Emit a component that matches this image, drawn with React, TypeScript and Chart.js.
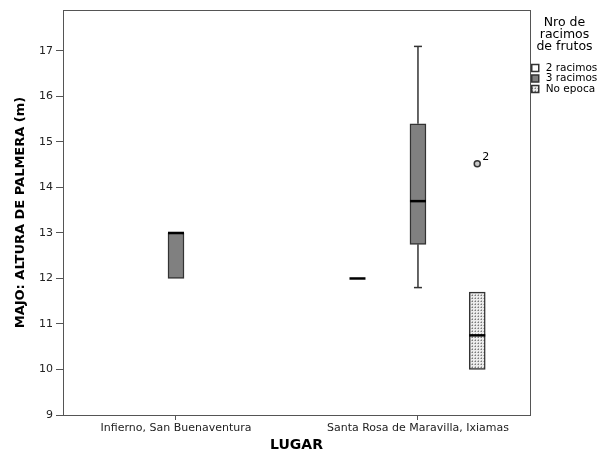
import React, { useEffect, useRef } from 'react';
import { Chart, registerables } from 'chart.js';

Chart.register(...registerables);

// ---- data ----
const categories = ['Infierno, San Buenaventura', 'Santa Rosa de Maravilla, Ixiamas'];
const seriesNames = ['2 racimos', '3 racimos', 'No epoca'];
// five-number summaries per category: [min, q1, median, q3, max]
const stats2Racimos: (number[] | null)[] = [null, [12, 12, 12, 12, 12]];
const stats3Racimos: (number[] | null)[] = [[12, 12, 13, 13, 13], [11.8, 12.75, 13.7, 15.4, 17.1]];
const statsNoEpoca: (number[] | null)[] = [null, [10, 10, 10.75, 11.7, 11.7]];
const outlierSeries = [2];
const outlierCategory = [1];
const outlierValues = [14.52];
const outlierLabels = ['2'];
const yTicks = [9, 10, 11, 12, 13, 14, 15, 16, 17];
const legendTitle = ['Nro de', 'racimos', 'de frutos'];
const xTitle = 'LUGAR';
const yTitle = 'MAJO: ALTURA DE PALMERA (m)';

// ---- layout / style ----
const FONT = "'DejaVu Sans', sans-serif";
const seriesOffset = [-0.25, 0, 0.245];
const allStats = [stats2Racimos, stats3Racimos, statsNoEpoca];
const pos = (ci: number, si: number) => ci + 1 + seriesOffset[si];

function makePattern(): CanvasPattern | string {
  const c = document.createElement('canvas');
  c.width = 3;
  c.height = 3;
  const g = c.getContext('2d');
  if (!g) return '#ddd';
  g.fillStyle = '#ececec';
  g.fillRect(0, 0, 3, 3);
  g.fillStyle = '#7a7a7a';
  g.fillRect(1, 1, 1, 1);
  g.fillStyle = '#b4b4b4';
  g.fillRect(0, 1, 1, 1);
  g.fillRect(1, 0, 1, 1);
  const p = g.createPattern(c, 'repeat');
  return p || '#ddd';
}

const boxDecor = {
  id: 'boxDecor',
  beforeDatasetsDraw(chart: any) {
    const { ctx, chartArea } = chart;
    ctx.save();
    ctx.strokeStyle = '#555';
    ctx.lineWidth = 1;
    ctx.strokeRect(chartArea.left + 0.5, chartArea.top + 0.5, chartArea.right - chartArea.left, chartArea.bottom - chartArea.top);
    ctx.restore();
  },
  afterDatasetsDraw(chart: any) {
    const { ctx } = chart;
    const xs = chart.scales.x;
    const ys = chart.scales.y;
    ctx.save();
    allStats.forEach((st, si) => {
      st.forEach((s, ci) => {
        if (!s) return;
        const px = xs.getPixelForValue(pos(ci, si));
        const [mn, q1, med, q3, mx] = s;
        ctx.strokeStyle = '#333';
        ctx.lineWidth = 1.5;
        const seg = (a: number, b: number) => {
          if (a === b) return;
          ctx.beginPath();
          ctx.moveTo(px, ys.getPixelForValue(a));
          ctx.lineTo(px, ys.getPixelForValue(b));
          ctx.stroke();
          const cy = ys.getPixelForValue(b);
          ctx.beginPath();
          ctx.moveTo(px - 4, cy);
          ctx.lineTo(px + 4, cy);
          ctx.stroke();
        };
        seg(q3, mx);
        seg(q1, mn);
        ctx.strokeStyle = '#000';
        ctx.lineWidth = 2.5;
        const my = ys.getPixelForValue(med);
        ctx.beginPath();
        ctx.moveTo(px - 8, my);
        ctx.lineTo(px + 8, my);
        ctx.stroke();
      });
    });
    const meta = chart.getDatasetMeta(3);
    ctx.fillStyle = '#000';
    ctx.font = `11px ${FONT}`;
    ctx.textBaseline = 'middle';
    ctx.textAlign = 'left';
    meta.data.forEach((pt: any, i: number) => {
      ctx.fillText(outlierLabels[i], pt.x + 5, pt.y - 7);
    });
    ctx.restore();
  },
};

export default function App() {
  const ref = useRef<HTMLCanvasElement | null>(null);
  useEffect(() => {
    if (!ref.current) return;
    const fills = ['#ffffff', '#808080', makePattern()];
    const barSets = allStats.map((st, si) => ({
      type: 'bar' as const,
      label: seriesNames[si],
      data: st
        .map((s, ci) => (s ? { x: pos(ci, si), y: [s[1], s[3]] } : null))
        .filter(Boolean),
      backgroundColor: fills[si],
      borderColor: '#333',
      borderWidth: 1.5,
      borderSkipped: false,
      barThickness: 16,
      grouped: false,
    }));
    const outlierSet = {
      type: 'scatter' as const,
      label: 'outliers',
      data: outlierValues.map((v, i) => ({ x: pos(outlierCategory[i], outlierSeries[i]), y: v })),
      backgroundColor: '#c8c8c8',
      borderColor: '#333',
      borderWidth: 1.5,
      pointRadius: 3,
    };
    const chart = new Chart(ref.current, {
      type: 'bar',
      data: { datasets: [...barSets, outlierSet] as any },
      options: {
        animation: false,
        responsive: false,
        events: [],
        layout: { padding: { top: 10, left: 0, right: 0, bottom: 0 } },
        plugins: {
          tooltip: { enabled: false },
          legend: {
            position: 'right',
            align: 'start',
            maxWidth: 69,
            title: {
              display: true,
              text: legendTitle as any,
              color: '#000',
              font: { family: FONT, size: 12.5, lineHeight: '12px' as any },
              padding: { top: 6, bottom: 34.75 } as any,
            },
            labels: {
              usePointStyle: true,
              pointStyle: 'rect',
              boxWidth: 12,
              boxHeight: 7,
              padding: 0,
              color: '#000',
              font: { family: FONT, size: 10.5 },
              filter: (item: any) => item.datasetIndex < 3,
            },
          },
        },
        scales: {
          x: {
            type: 'linear',
            min: 0.533,
            max: 2.463,
            offset: false,
            afterBuildTicks: (s: any) => {
              s.ticks = categories.map((_, i) => ({ value: i + 1 }));
            },
            afterFit: (s: any) => {
              s.height = 42;
            },
            ticks: {
              callback: (_v: any, i: number) => categories[i],
              maxRotation: 0,
              autoSkip: false,
              color: '#222',
              font: { family: FONT, size: 11 },
              padding: 2,
            },
            grid: { drawOnChartArea: false, tickLength: 5, color: '#555', offset: false },
            border: { color: '#555' },
            title: {
              display: true,
              text: xTitle,
              color: '#000',
              font: { family: FONT, size: 14, weight: 'bold' },
              padding: { top: 0, bottom: 3.6 },
            },
          },
          y: {
            min: 9,
            max: 17.9,
            afterBuildTicks: (s: any) => {
              s.ticks = yTicks.map((v) => ({ value: v }));
            },
            afterFit: (s: any) => {
              s.width = 63;
            },
            ticks: {
              color: '#222',
              font: { family: FONT, size: 11 },
              padding: 3,
            },
            grid: { drawOnChartArea: false, tickLength: 7, color: '#555' },
            border: { color: '#555' },
            title: {
              display: true,
              text: yTitle,
              color: '#000',
              font: { family: FONT, size: 13, weight: 'bold' },
              padding: { top: 13, bottom: 0 },
            },
          },
        },
      },
      plugins: [boxDecor],
    });
    return () => chart.destroy();
  }, []);
  return (
    <div style={{ position: 'fixed', left: 0, top: 0, width: 599, height: 457, background: '#fff' }}>
      <canvas ref={ref} width={599} height={457} />
    </div>
  );
}
